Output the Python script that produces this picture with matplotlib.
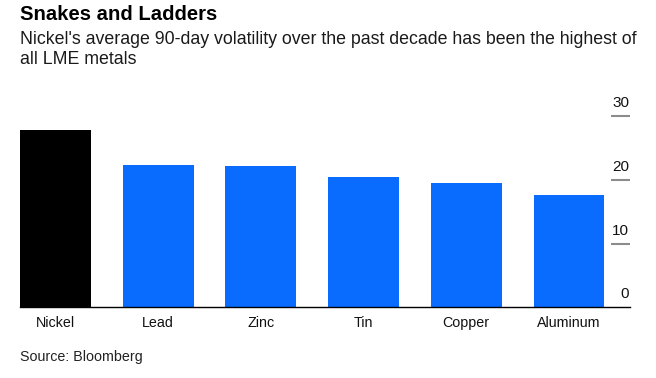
import matplotlib
matplotlib.use("Agg")
import matplotlib.pyplot as plt

plt.rcParams['font.family'] = ['Liberation Sans', 'DejaVu Sans']

categories = ["Nickel", "Lead", "Zinc", "Tin", "Copper", "Aluminum"]
values = [27.8, 22.4, 22.1, 20.4, 19.5, 17.7]
colors = ["#000000", "#0a6cff", "#0a6cff", "#0a6cff", "#0a6cff", "#0a6cff"]
yticks = [0, 10, 20, 30]
ytick_labels = ["0", "10", "20", "30"]

W, H = 656, 378
fig = plt.figure(figsize=(W / 100, H / 100), dpi=100)
ax = fig.add_axes([20 / W, (H - 307.3) / H, 610 / W, 210.3 / H])

x = list(range(len(categories)))
ax.bar(x, values, width=0.69, color=colors, zorder=2)
ax.set_xlim(-0.346, 5.594)
ax.set_ylim(0, 33)

for s in ["top", "left", "right"]:
    ax.spines[s].set_visible(False)
ax.spines["bottom"].set_color("#000000")
ax.spines["bottom"].set_linewidth(1.0)
ax.spines["bottom"].set_zorder(3)

ax.set_xticks(x)
ax.set_xticklabels(categories, fontsize=10.3, color="#111111")
ax.tick_params(axis="x", length=0, pad=6)

ax.yaxis.tick_right()
ax.set_yticks([t for t in yticks if t > 0])
ax.set_yticklabels([])
ax.tick_params(axis="y", direction="in", length=13.5, width=1.5, color="#8c8c8c", pad=0)

ytr = ax.get_yaxis_transform()
for v, lab in zip(yticks, ytick_labels):
    ax.annotate(lab, xy=(1.0, v), xycoords=ytr, xytext=(-0.5, 6.5), textcoords="offset points",
                ha="right", va="baseline", fontsize=11, color="#111111")

fig.text(20 / W, 1 - 20 / H, "Snakes and Ladders", fontsize=14.6, fontweight="bold",
         ha="left", va="baseline", color="#000000")
fig.text(20 / W, 1 - 44 / H,
         "Nickel's average 90-day volatility over the past decade has been the highest of",
         fontsize=12.75, ha="left", va="baseline", color="#1a1a1a")
fig.text(20 / W, 1 - 64 / H, "all LME metals",
         fontsize=12.75, ha="left", va="baseline", color="#1a1a1a")
fig.text(20 / W, 1 - 361 / H, "Source: Bloomberg", fontsize=10.3, ha="left", va="baseline", color="#222222")

fig.savefig("out.png", dpi=100)
